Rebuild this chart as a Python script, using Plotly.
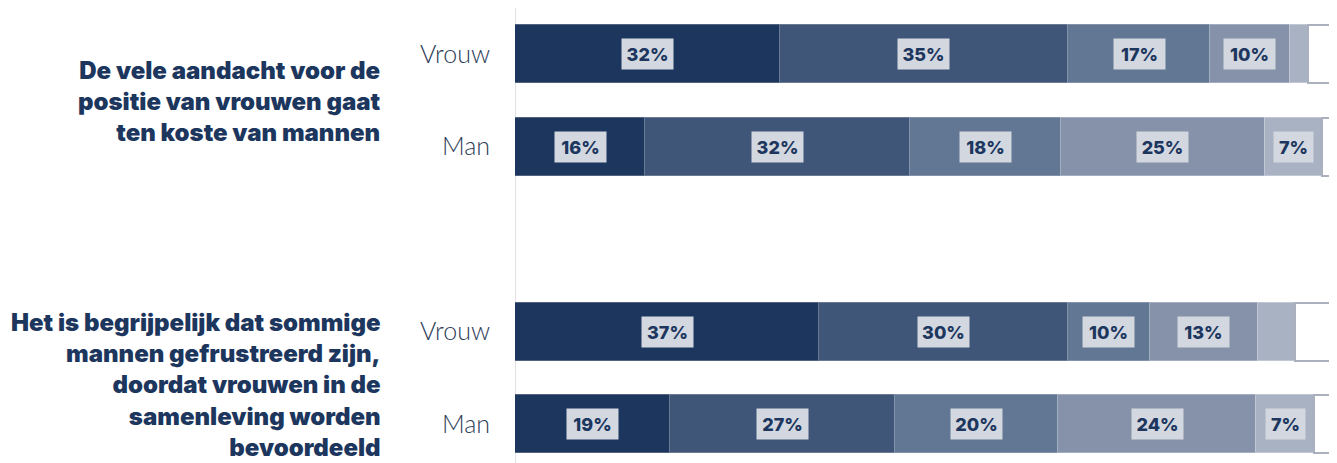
import plotly.graph_objects as go

# ---- data ----
statements = [
    "De vele aandacht voor de<br>positie van vrouwen gaat<br>ten koste van mannen",
    "Het is begrijpelijk dat sommige<br>mannen gefrustreerd zijn,<br>doordat vrouwen in de<br>samenleving worden<br>bevoordeeld",
]
genders = ["Vrouw", "Man", "Vrouw", "Man"]
row_pos = [0, 1, 3, 4]          # row slots (slot 2 left empty between statements)
segments = ["Helemaal mee eens", "Mee eens", "Neutraal", "Oneens", "Helemaal oneens", "Weet niet"]
# estimated (unrounded) shares, rows: Q1 Vrouw, Q1 Man, Q2 Vrouw, Q2 Man
seg_values = [
    [32.4, 15.9, 37.2, 19.0],   # Helemaal mee eens
    [35.2, 32.4, 30.4, 27.4],   # Mee eens
    [17.4, 18.4, 10.0, 20.0],   # Neutraal
    [9.7, 25.0, 13.2, 24.2],    # Oneens
    [2.2, 6.9, 4.6, 7.1],       # Helemaal oneens
    [3.1, 1.4, 4.6, 2.3],       # Weet niet
]
label_min = 5  # segments smaller than this carry no label

# ---- style ----
colors = ["#1c365e", "#3f5679", "#627793", "#8592a9", "#a9b2c2", "#ffffff"]
line_colors = ["#51637f", "#6a7a95", "#8393ab", "#a3aec0", "#c2c8d3", "#aab0bd"]
line_widths = [1.2, 1.2, 1.2, 1.2, 1.2, 2]
navy = "#1c365e"

fig = go.Figure()
for i, name in enumerate(segments):
    fig.add_trace(go.Bar(
        y=row_pos, x=seg_values[i], name=name, orientation="h",
        marker=dict(color=colors[i], line=dict(color=line_colors[i], width=line_widths[i])),
        width=0.63, hoverinfo="skip", showlegend=False, cliponaxis=False,
    ))

annotations = []
for r in range(len(row_pos)):
    cum = 0
    for i in range(len(segments) - 1):
        v = seg_values[i][r]
        if v >= label_min:
            t = f"{round(v)}%"
            annotations.append(dict(
                x=cum + v / 2, y=row_pos[r], xref="x", yref="y", text=t,
                showarrow=False, bgcolor="#d2d7e0", borderpad=0,
                width=12 * len(t) + 15, height=30,
                font=dict(family="Inter", size=18, color=navy, weight=800),
            ))
        cum += v

for k, s in enumerate(statements):
    annotations.append(dict(
        x=0, xref="paper", xanchor="right", xshift=-132,
        y=(row_pos[2 * k] + row_pos[2 * k + 1]) / 2, yref="y", yanchor="middle",
        yshift=-1 if k == 0 else -7,
        text=s, align="right", showarrow=False,
        font=dict(family="Inter", size=24, color=navy, weight=900),
    ))

fig.update_layout(
    width=1329, height=455,
    margin=dict(l=507, r=2, t=0, b=0, autoexpand=False),
    plot_bgcolor="white", paper_bgcolor="white",
    barmode="stack", bargap=0,
    annotations=annotations,
    xaxis=dict(range=[0, 100.25], visible=False, fixedrange=True),
    yaxis=dict(
        range=[4.42, -0.5], tickvals=row_pos, ticktext=genders,
        ticks="", ticklabelstandoff=24, showgrid=False, zeroline=False,
        tickfont=dict(family="Lato", size=25, color="#2e3d58", weight=300),
        showline=False, automargin=False, fixedrange=True,
    ),
    shapes=[dict(type="line", xref="x", yref="paper", x0=0, x1=0, y0=0, y1=1,
                 line=dict(color="#e2e2e2", width=2), layer="below")],
)

fig.write_html("out.html", config={"displayModeBar": False})
